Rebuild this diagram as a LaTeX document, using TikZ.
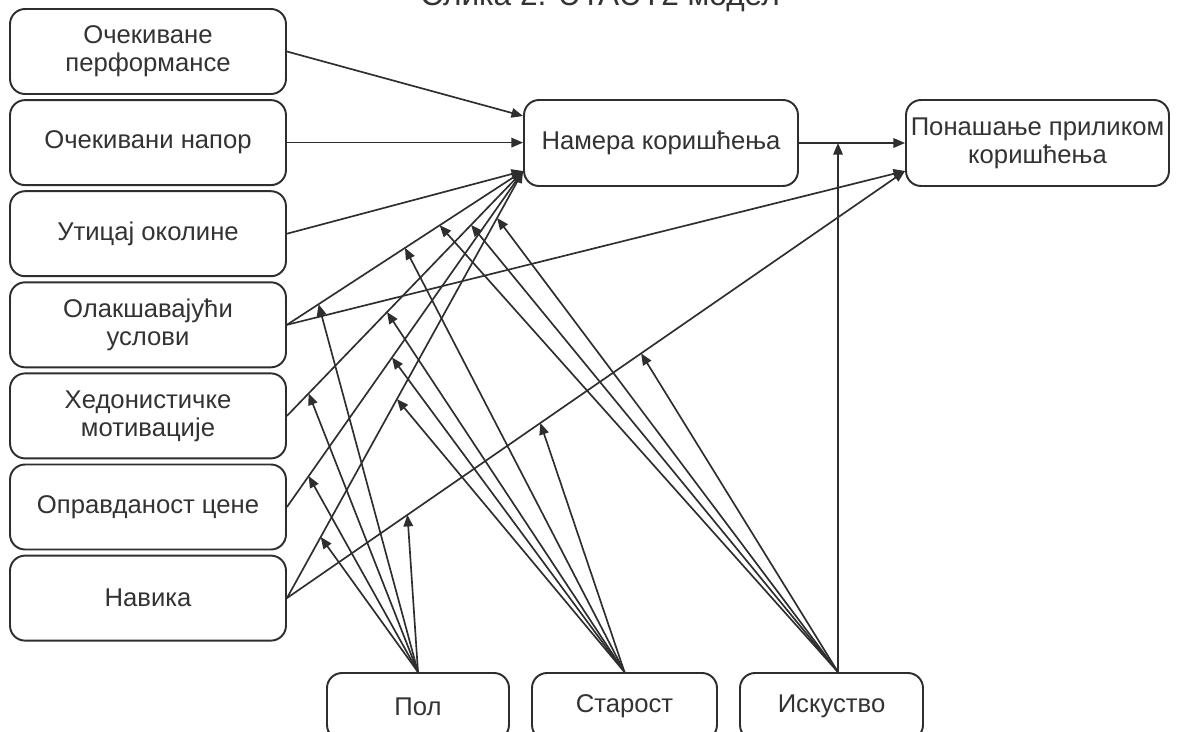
\documentclass[tikz,border=0pt]{standalone}
\usepackage{fontspec}
\setmainfont{Liberation Sans}
\usetikzlibrary{arrows.meta,calc}
\definecolor{ln}{HTML}{2E2E2E}
\definecolor{tx}{HTML}{333333}
\begin{document}
\begin{tikzpicture}[x=0.02cm,y=-0.02cm,
  box/.style={draw=ln, line width=1.1pt, rounded corners=0.3cm, align=center, text=tx,
    font=\fontsize{14.6}{16}\selectfont, inner sep=0pt},
  lbox/.style={box, minimum width=5.52cm, minimum height=1.7cm},
  mbox/.style={box, minimum height=1.34cm},
  arr/.style={draw=ln, line width=0.95pt, -{Triangle[length=6.6pt,width=5.4pt]}},
]
\useasboundingbox (0,0) rectangle (1181,731);
\clip (0,0) rectangle (1181,731);
\fill[white] (0,0) rectangle (1181,731);

\node[text=tx, font=\fontsize{18}{20}\selectfont, anchor=base] (title) at (600,5) {Слика 2. UTAUT2 модел};

% left column
\node[lbox] (pe) at (148,51.5) {Очекиване\\перформансе};
\node[lbox] (ee) at (148,142.6) {Очекивани напор};
\node[lbox] (si) at (148,233.7) {Утицај околине};
\node[lbox] (fc) at (148,324.8) {Олакшавајући\\услови};
\node[lbox] (hm) at (148,415.9) {Хедонистичке\\мотивације};
\node[lbox] (pv) at (148,507) {Оправданост цене};
\node[lbox] (ht) at (148,598.1) {Навика};

% outcomes
\node[box, minimum width=5.48cm, minimum height=1.72cm] (bi) at (661,143) {Намера коришћења};
\node[box, minimum width=5.26cm, minimum height=1.72cm] (ub) at (1037.5,143) {Понашање приликом\\коришћења};

% moderators
\node[mbox, minimum width=3.64cm] (pol) at (418,706.5) {Пол};
\node[mbox, minimum width=3.70cm] (age) at (624.5,706.5) {Старост};
\node[mbox, minimum width=3.66cm] (exp) at (831.5,706.5) {Искуство};

\coordinate (biA) at ($(bi.west)+(0,-27)$);
\coordinate (biB) at ($(bi.west)+(0,28)$);
\coordinate (ubB) at ($(ub.west)+(0,28)$);
\coordinate (expT) at ($(exp.north)+(6.5,0)$);

% main paths
\draw[arr] (pe.east) -- (biA);
\draw[arr] (ee.east) -- (ee.east -| bi.west);
\draw[arr] (si.east) -- (biB);
\draw[arr] (fc.east) -- (biB);
\draw[arr] (hm.east) -- (biB);
\draw[arr] (pv.east) -- (biB);
\draw[arr] (ht.east) -- (biB);
\draw[arr] (fc.east) -- (ubB);
\draw[arr] (ht.east) -- (ubB);
\draw[arr] (bi.east) -- (ub.west);
\draw[arr] (expT) -- (expT |- bi.east);

% gender
\draw[arr] (pol.north) -- ($(fc.east)!0.134!(biB)$);
\draw[arr] (pol.north) -- ($(hm.east)!0.092!(biB)$);
\draw[arr] (pol.north) -- ($(pv.east)!0.092!(biB)$);
\draw[arr] (pol.north) -- ($(ht.east)!0.143!(biB)$);
\draw[arr] (pol.north) -- ($(ht.east)!0.195!(ubB)$);
% age
\draw[arr] (age.north) -- ($(fc.east)!0.5!(biB)$);
\draw[arr] (age.north) -- ($(hm.east)!0.424!(biB)$);
\draw[arr] (age.north) -- ($(pv.east)!0.445!(biB)$);
\draw[arr] (age.north) -- ($(ht.east)!0.466!(biB)$);
\draw[arr] (age.north) -- ($(ht.east)!0.41!(ubB)$);
% experience
\draw[arr] (expT) -- ($(fc.east)!0.647!(biB)$);
\draw[arr] (expT) -- ($(hm.east)!0.78!(biB)$);
\draw[arr] (expT) -- ($(ht.east)!0.89!(biB)$);
\draw[arr] (expT) -- ($(ht.east)!0.573!(ubB)$);
\end{tikzpicture}
\end{document}
